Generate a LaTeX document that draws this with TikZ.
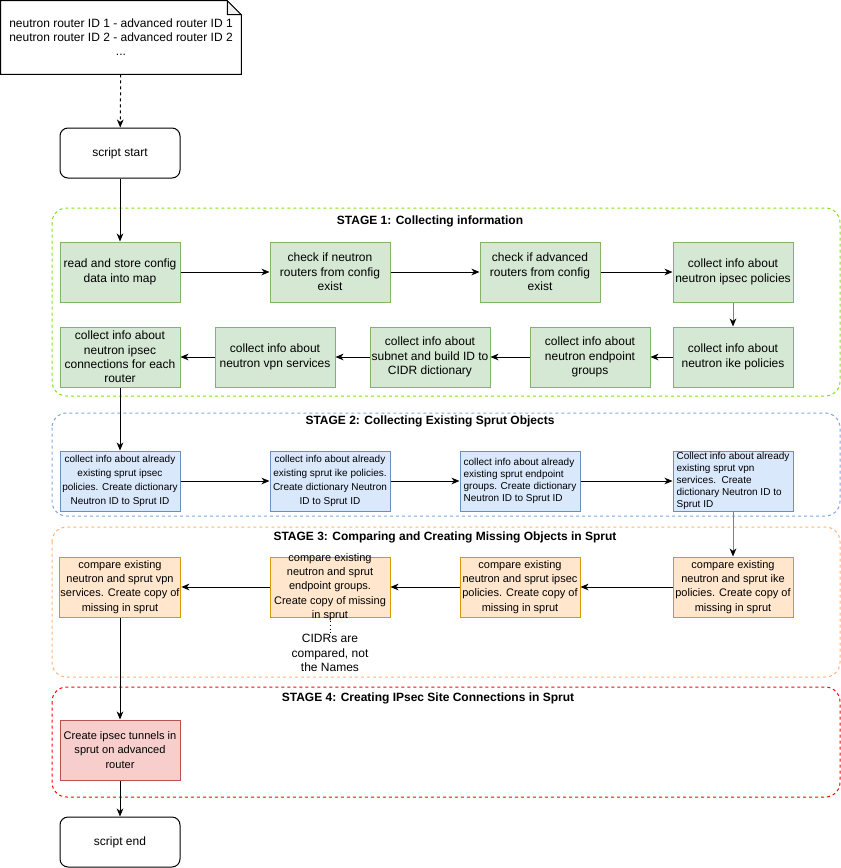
\documentclass[tikz,border=0pt]{standalone}
\usepackage{fontspec}
\setmainfont{Liberation Sans}
\usetikzlibrary{arrows.meta,positioning}

\definecolor{onefill}{HTML}{D5E8D4}
\definecolor{onedraw}{HTML}{82B366}
\definecolor{twofill}{HTML}{DAE8FC}
\definecolor{twodraw}{HTML}{6C8EBF}
\definecolor{threefill}{HTML}{FFE6CC}
\definecolor{threedraw}{HTML}{D79B00}
\definecolor{fourfill}{HTML}{F8CECC}
\definecolor{fourdraw}{HTML}{B85450}
\definecolor{oneframe}{HTML}{80E020}
\definecolor{twoframe}{HTML}{7EA6E0}
\definecolor{threeframe}{HTML}{FFB570}
\definecolor{fourframe}{HTML}{FF0000}

\begin{document}
\begin{tikzpicture}[
  x=0.75pt, y=-0.75pt,
  box/.style={draw, line width=0.75pt, minimum width=90pt, minimum height=45pt, align=center, inner xsep=1pt, inner ysep=0pt, font=\fontsize{9}{10.8}\selectfont},
  collect/.style={box, fill=onefill, draw=onedraw},
  sprut/.style={box, fill=twofill, draw=twodraw, font=\fontsize{7.5}{10.7}\selectfont},
  sprutleft/.style={sprut, align=left, font=\fontsize{7.5}{9}\selectfont},
  compare/.style={box, fill=threefill, draw=threedraw, font=\fontsize{8.25}{10.7}\selectfont},
  tunnel/.style={box, fill=fourfill, draw=fourdraw, font=\fontsize{8.3}{10.8}\selectfont},
  terminal/.style={draw, line width=0.75pt, rounded corners=6pt, minimum width=90pt, minimum height=37.5pt, font=\fontsize{9}{10.8}\selectfont},
  stage/.style={dash pattern=on 2.25pt off 2.25pt, rounded corners=11pt, line width=0.75pt},
  title/.style={font=\bfseries\fontsize{9}{10.8}\selectfont},
  arrow/.style={-{Stealth[length=6pt,width=5pt,inset=1.8pt]}, line width=0.75pt},
  grayarrow/.style={-{Stealth[length=6pt,width=5pt,inset=1.8pt,color=black]}, line width=0.75pt, draw=gray},
]
\useasboundingbox (0,0) rectangle (841,868);

% stage frames
\draw[stage, oneframe] (52,208) rectangle (840,396);
\draw[stage, twoframe] (52,413) rectangle (840,516);
\draw[stage, threeframe] (52,527) rectangle (840,677);
\draw[stage, fourframe] (52,687) rectangle (840,797);

\node[title] (t1) at (430,221) {STAGE 1: Collecting information};
\node[title] (t2) at (430,421) {STAGE 2: Collecting Existing Sprut Objects};
\node[title] (t3) at (445,537) {STAGE 3: Comparing and Creating Missing Objects in Sprut};
\node[title] (t4) at (428,698) {STAGE 4: Creating IPsec Site Connections in Sprut};

% router mapping note
\node[minimum width=180pt, minimum height=54.75pt] (map) at (121,37.5) {};
\draw[line width=0.75pt, fill=white] (map.north west) -- ([xshift=-10.5pt]map.north east)
  -- ([yshift=-10.5pt]map.north east) -- (map.south east) -- (map.south west) -- cycle;
\draw[line width=0.75pt, fill=gray!12] ([xshift=-10.5pt]map.north east) -- ([xshift=-10.5pt,yshift=-10.5pt]map.north east)
  -- ([yshift=-10.5pt]map.north east) -- cycle;
\node[align=center, font=\fontsize{9}{10.5}\selectfont] (maptext) at (map) {neutron router ID 1 - advanced router ID 1\\neutron router ID 2 - advanced router ID 2\\...};

\node[terminal] (start) at (120,153) {script start};

% stage 1
\node[collect] (read) at (120,272) {read and store config\\data into map};
\node[collect] (chkn) at (330,272) {check if neutron\\routers from config\\exist};
\node[collect] (chka) at (540,272) {check if advanced\\routers from config\\exist};
\node[collect] (ipsecp) at (733,272) {collect info about\\neutron ipsec policies};
\node[collect] (ikep) at (733,357) {collect info about\\neutron ike policies};
\node[collect] (epg) at (590,357) {collect info about\\neutron endpoint\\groups};
\node[collect] (subnet) at (430,357) {collect info about\\subnet and build ID to\\CIDR dictionary};
\node[collect] (vpns) at (275,357) {collect info about\\neutron vpn services};
\node[collect] (conns) at (120,357) {collect info about\\neutron ipsec\\connections for each\\router};

% stage 2
\node[sprut] (sp1) at (120,481) {collect info about already\\existing sprut ipsec\\policies. Create dictionary\\Neutron ID to Sprut ID};
\node[sprut] (sp2) at (330,481) {collect info about already\\existing sprut ike policies.\\Create dictionary Neutron\\ID to Sprut ID};
\node[sprutleft] (sp3) at (520,481) {collect info about already\\existing sprut endpoint\\groups. Create dictionary\\Neutron ID to Sprut ID};
\node[sprutleft] (sp4) at (733,481) {Collect info about already\\existing sprut vpn\\services.\ \ Create\\dictionary Neutron ID to\\Sprut ID};

% stage 3
\node[compare] (cmpike) at (733,587) {compare existing\\neutron and sprut ike\\policies. Create copy of\\missing in sprut};
\node[compare] (cmpipsec) at (520,587) {compare existing\\neutron and sprut ipsec\\policies. Create copy of\\missing in sprut};
\node[compare, label={[align=center, font=\fontsize{8.25}{10.7}\selectfont]center:{compare existing\\neutron and sprut\\endpoint groups.\\Create copy of missing\\in sprut}}] (cmpepg) at (330,587) {};
\node[compare] (cmpvpn) at (120,587) {compare existing\\neutron and sprut vpn\\services. Create copy of\\missing in sprut};
\node[align=center, inner sep=1pt, font=\fontsize{9}{10.65}\selectfont] (cidr) at (330,653) {CIDRs are\\compared, not\\the Names};

% stage 4
\node[tunnel] (tun) at (120,750) {Create ipsec tunnels in\\sprut on advanced\\router};
\node[terminal] (end) at (120,842) {script end};

% connectors
\draw[arrow, dash pattern=on 2.25pt off 2.25pt] (map) -- (start);
\draw[arrow] (start) -- (read);
\draw[arrow] (read) -- (chkn);
\draw[arrow] (chkn) -- (chka);
\draw[arrow] (chka) -- (ipsecp);
\draw[grayarrow] (ipsecp) -- (ikep);
\draw[arrow] (ikep) -- (epg);
\draw[arrow] (epg) -- (subnet);
\draw[arrow] (subnet) -- (vpns);
\draw[arrow] (vpns) -- (conns);
\draw[arrow] (conns) -- (sp1);
\draw[arrow] (sp1) -- (sp2);
\draw[arrow] (sp2) -- (sp3);
\draw[arrow] (sp3) -- (sp4);
\draw[grayarrow] (sp4) -- (cmpike);
\draw[arrow] (cmpike) -- (cmpipsec);
\draw[arrow] (cmpipsec) -- (cmpepg);
\draw[arrow] (cmpepg) -- (cmpvpn);
\draw[line width=0.75pt, dotted] (cmpepg) -- (cidr);
\draw[arrow] (cmpvpn) -- (tun);
\draw[arrow] (tun) -- (end);
\end{tikzpicture}
\end{document}
